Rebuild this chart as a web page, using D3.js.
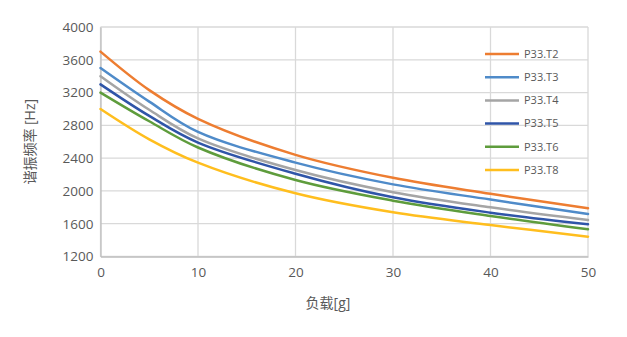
<!DOCTYPE html>
<html>
<head>
<meta charset="utf-8">
<script src="https://cdn.jsdelivr.net/npm/d3@7"></script>
<style>
  html, body { margin: 0; padding: 0; background: #fff; }
  svg { display: block; }
  text { font-family: "Open Sans", "Noto Sans CJK SC", sans-serif; fill: #595959; }
</style>
</head>
<body>
<svg id="chart" width="627" height="337"></svg>
<script>
// Load in grams at which each series was sampled
const loads = [0, 5, 10, 20, 30, 40, 50];

// Resonant frequency (Hz) per probe
const seriesNames = ["P33.T2", "P33.T3", "P33.T4", "P33.T5", "P33.T6", "P33.T8"];
const freqT2 = [3700, 3230, 2880, 2440, 2160, 1965, 1788];
const freqT3 = [3500, 3090, 2720, 2345, 2080, 1895, 1719];
const freqT4 = [3400, 2990, 2640, 2255, 1985, 1800, 1645];
const freqT5 = [3300, 2915, 2590, 2210, 1922, 1735, 1593];
const freqT6 = [3200, 2850, 2530, 2133, 1881, 1694, 1532];
const freqT8 = [3000, 2630, 2345, 1971, 1739, 1584, 1442];

const xTicks = [0, 10, 20, 30, 40, 50];
const yTicks = [1200, 1600, 2000, 2400, 2800, 3200, 3600, 4000];

const colors = ["#ED7D31", "#4F8BC9", "#A5A5A5", "#2F55A8", "#5E9C3C", "#FFBE1E"];
const values = [freqT2, freqT3, freqT4, freqT5, freqT6, freqT8];
const series = seriesNames.map((name, i) => ({
  name,
  color: colors[i],
  points: loads.map((x, j) => ({ x, y: values[i][j] }))
}));

const svg = d3.select("#chart");
const plot = { left: 100.5, right: 588, top: 27, bottom: 256.5 };

const x = d3.scaleLinear().domain([0, 50]).range([plot.left, plot.right]);
const y = d3.scaleLinear().domain([1200, 4000]).range([plot.bottom, plot.top]);

// Grid lines
const grid = svg.append("g");
grid.selectAll("line.h").data(yTicks).join("line")
  .attr("x1", plot.left).attr("x2", plot.right)
  .attr("y1", d => y(d)).attr("y2", d => y(d))
  .attr("stroke", "#D9D9D9").attr("stroke-width", 1.3);
grid.selectAll("line.v").data(xTicks).join("line")
  .attr("x1", d => x(d)).attr("x2", d => x(d))
  .attr("y1", plot.top).attr("y2", plot.bottom)
  .attr("stroke", "#D9D9D9").attr("stroke-width", 1.3);

// Axes
const xAxis = svg.append("g")
  .attr("transform", `translate(0,${plot.bottom})`)
  .call(d3.axisBottom(x).tickValues(xTicks).tickSize(0).tickPadding(11));
const yAxis = svg.append("g")
  .attr("transform", `translate(${plot.left},0)`)
  .call(d3.axisLeft(y).tickValues(yTicks).tickSize(0).tickPadding(7).tickFormat(d3.format("d")));
[xAxis, yAxis].forEach(a => {
  a.select(".domain").attr("stroke", "#BFBFBF").attr("stroke-width", 1.3);
  a.selectAll("text").style("font-size", "13.5px").attr("fill", "#595959")
    .style("font-family", "'Open Sans', sans-serif");
});

// Series lines
const line = d3.line().x(d => x(d.x)).y(d => y(d.y)).curve(d3.curveCatmullRom.alpha(0.5));
svg.append("g").selectAll("path").data(series).join("path")
  .attr("d", d => line(d.points))
  .attr("fill", "none")
  .attr("stroke", d => d.color)
  .attr("stroke-width", 2.5)
  .attr("stroke-linecap", "round");

// Legend
const legend = svg.append("g");
const rows = legend.selectAll("g").data(series).join("g")
  .attr("transform", (d, i) => `translate(485,${54 + i * 23.2})`);
rows.append("line").attr("x1", 0).attr("x2", 34).attr("y1", 0).attr("y2", 0)
  .attr("stroke", d => d.color).attr("stroke-width", 2.5);
rows.append("text").attr("x", 39).attr("y", 0).attr("dy", "0.35em")
  .style("font-size", "11px").text(d => d.name);

// Axis titles
svg.append("text").attr("x", 328).attr("y", 303).attr("dy", "0.35em")
  .attr("text-anchor", "middle").style("font-size", "14px").text("负载[g]");
svg.append("text")
  .attr("transform", `translate(30,${(plot.top + plot.bottom) / 2}) rotate(-90)`)
  .attr("dy", "0.35em").attr("text-anchor", "middle")
  .style("font-size", "14px").text("谐振频率 [Hz]");
</script>
</body>
</html>
